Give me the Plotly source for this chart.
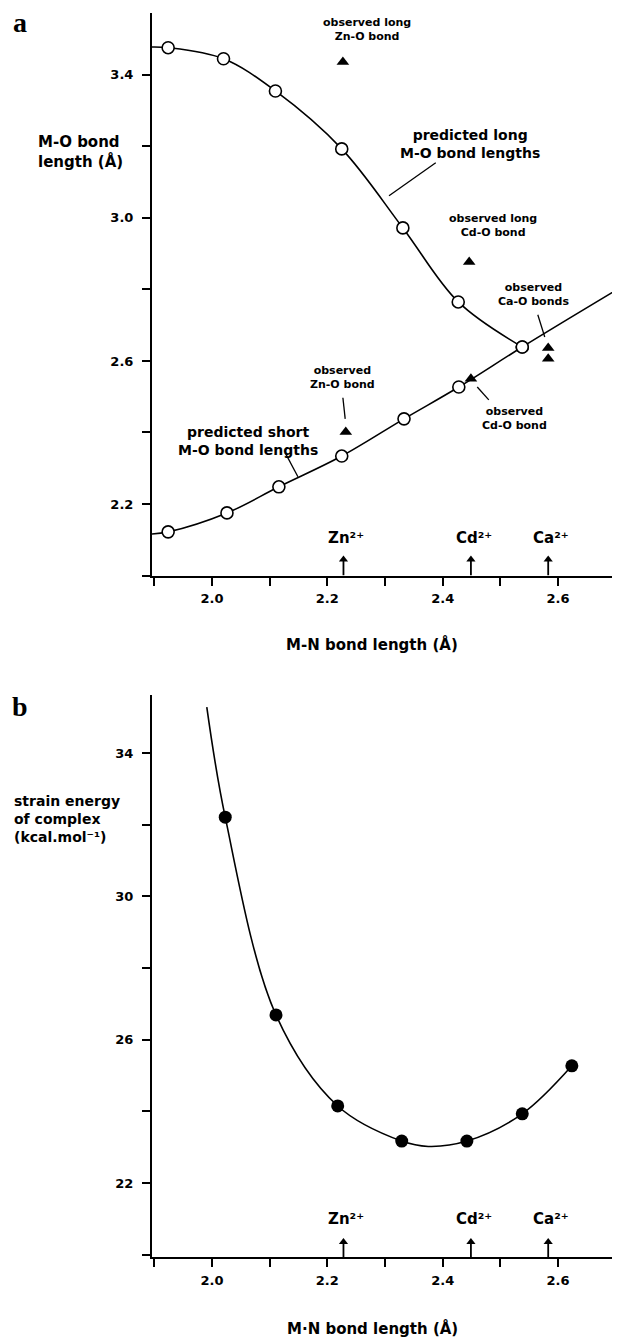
import plotly.graph_objects as go

# ---------------- data ----------------
# panel a: predicted M-O bond lengths vs M-N bond length
long_x = [1.924, 2.020, 2.110, 2.225, 2.331, 2.427, 2.538]
long_y = [3.476, 3.445, 3.355, 3.193, 2.972, 2.765, 2.639]
short_x = [1.924, 2.026, 2.116, 2.225, 2.333, 2.428, 2.538]
short_y = [2.122, 2.175, 2.248, 2.334, 2.438, 2.527, 2.639]
# smooth fitted curves
long_curve_x = [1.896, 1.924, 2.020, 2.110, 2.225, 2.331, 2.427, 2.538]
long_curve_y = [3.478, 3.476, 3.445, 3.355, 3.193, 2.972, 2.765, 2.639]
short_curve_x = [1.896, 1.924, 2.026, 2.116, 2.225, 2.333, 2.428, 2.538, 2.702]
short_curve_y = [2.116, 2.122, 2.175, 2.248, 2.334, 2.438, 2.527, 2.639, 2.799]
# observed bond lengths (triangles)
obs_x = [2.227, 2.446, 2.583, 2.583, 2.232, 2.449]
obs_y = [3.436, 2.877, 2.636, 2.606, 2.401, 2.550]

# panel b: strain energy
energy_x = [2.023, 2.111, 2.218, 2.329, 2.442, 2.538, 2.624]
energy_y = [32.21, 26.69, 24.15, 23.17, 23.17, 23.93, 25.27]
energy_curve_x = [1.991, 2.023, 2.111, 2.218, 2.329, 2.375, 2.442, 2.538, 2.624]
energy_curve_y = [35.28, 32.21, 26.69, 24.15, 23.17, 23.02, 23.17, 23.93, 25.27]

# ions marked on the M-N axis
ion_names = ["Zn²⁺", "Cd²⁺", "Ca²⁺"]
ion_x = [2.228, 2.449, 2.583]

# ticks
x_tickvals = [2.0, 2.2, 2.4, 2.6]
x_minor = [1.9, 2.1, 2.3, 2.5]
ya_tickvals = [2.2, 2.6, 3.0, 3.4]
ya_minor = [2.0, 2.4, 2.8, 3.2]
yb_tickvals = [22, 26, 30, 34]
yb_minor = [20, 24, 28, 32]

# ---------------- figure ----------------
FONT = "DejaVu Sans"
OFF = 8                      # page body margin
W, H = 612, 1330
def px(p):  return (p - OFF) / W
def py(p):  return 1 - (p - OFF) / H

XA_RANGE = [1.896, 2.7075]
YA_RANGE = [2.0, 3.573]
YB_RANGE = [19.935, 35.62]
YA_DOM = [py(575.5), py(13)]
YB_DOM = [py(1257), py(695)]
X_DOM = [px(152), 1.0]

fig = go.Figure()
line = dict(color="black", width=1.6)

fig.add_trace(go.Scatter(x=long_curve_x, y=long_curve_y, mode="lines",
                         line=dict(shape="spline", smoothing=1.0, **line),
                         xaxis="x", yaxis="y", hoverinfo="skip"))
fig.add_trace(go.Scatter(x=short_curve_x, y=short_curve_y, mode="lines",
                         line=dict(shape="spline", smoothing=1.0, **line),
                         xaxis="x", yaxis="y", hoverinfo="skip"))
fig.add_trace(go.Scatter(x=long_x + short_x, y=long_y + short_y, mode="markers",
                         marker=dict(symbol="circle", size=12, color="white",
                                     line=dict(color="black", width=1.6)),
                         xaxis="x", yaxis="y"))
fig.add_trace(go.Scatter(x=obs_x, y=obs_y, mode="markers",
                         marker=dict(symbol="triangle-up", size=11, color="black",
                                     line=dict(width=0)),
                         xaxis="x", yaxis="y"))

fig.add_trace(go.Scatter(x=energy_curve_x, y=energy_curve_y, mode="lines",
                         line=dict(shape="spline", smoothing=1.0, **line),
                         xaxis="x2", yaxis="y2", hoverinfo="skip"))
fig.add_trace(go.Scatter(x=energy_x, y=energy_y, mode="markers",
                         marker=dict(symbol="circle", size=13, color="black"),
                         xaxis="x2", yaxis="y2"))

# ion arrows on both panels
for xa, ya, lo, alen in (("x", "y", YA_RANGE[0], 16 / 357.5),
                         ("x2", "y2", YB_RANGE[0], 15 / 35.83)):
    sx, sy = [], []
    for xv in ion_x:
        sx += [xv, xv, None]
        sy += [lo, lo + alen, None]
    fig.add_trace(go.Scatter(x=sx, y=sy, mode="lines", line=dict(color="black", width=1.8),
                             xaxis=xa, yaxis=ya, hoverinfo="skip"))
    fig.add_trace(go.Scatter(x=ion_x, y=[lo + alen] * len(ion_x), mode="markers",
                             marker=dict(symbol="triangle-up", size=8, color="black",
                                         line=dict(width=0)),
                             xaxis=xa, yaxis=ya, hoverinfo="skip"))

tickfont = dict(family=FONT, size=13, color="black", weight="bold")
axis_common = dict(showline=True, linecolor="black", linewidth=2, showgrid=False,
                   zeroline=False, ticks="outside", ticklen=8, tickwidth=1.6,
                   tickcolor="black", tickfont=tickfont)
def minor(vals):
    return dict(tickvals=vals, ticks="outside", ticklen=8, tickwidth=1.6,
                tickcolor="black", showgrid=False)

fig.update_layout(
    width=W, height=H, margin=dict(l=0, r=0, t=0, b=0),
    paper_bgcolor="white", plot_bgcolor="white", showlegend=False,
    xaxis=dict(domain=X_DOM, range=XA_RANGE, anchor="y", tickvals=x_tickvals,
               minor=minor(x_minor), ticklabelstandoff=2, tickformat=".1f", **axis_common),
    yaxis=dict(domain=YA_DOM, range=YA_RANGE, anchor="x", tickvals=ya_tickvals,
               minor=minor(ya_minor), ticklabelstandoff=6, tickformat=".1f", **axis_common),
    xaxis2=dict(domain=X_DOM, range=XA_RANGE, anchor="y2", tickvals=x_tickvals,
                minor=minor(x_minor), ticklabelstandoff=2, tickformat=".1f", **axis_common),
    yaxis2=dict(domain=YB_DOM, range=YB_RANGE, anchor="x2", tickvals=yb_tickvals,
                minor=minor(yb_minor), ticklabelstandoff=6, **axis_common),
)

ann = []
def txt(text, x, y, size, xref="x", yref="y", family=FONT, **kw):
    d = dict(text=text, x=x, y=y, xref=xref, yref=yref, showarrow=False,
             xanchor="center", yanchor="middle",
             font=dict(family=family, size=size, color="black", weight="bold"))
    d.update(kw)
    ann.append(d)

# panel letters
txt("a", px(20), py(22), 28, xref="paper", yref="paper", family="Liberation Serif")
txt("b", px(20), py(706), 28, xref="paper", yref="paper", family="Liberation Serif")

# axis titles
txt("M-O bond<br>length (Å)", px(36), py(151.5), 15, xref="paper", yref="paper",
    xanchor="left", align="left")
txt("strain energy<br>of complex<br>(kcal.mol⁻¹)", px(12), py(818.5), 14,
    xref="paper", yref="paper", xanchor="left", align="left")
txt("M-N bond length (Å)", px(372), py(645), 15, xref="paper", yref="paper")
txt("M·N bond length (Å)", px(372), py(1328), 15, xref="paper", yref="paper")

# panel a callouts
txt("observed long<br>Zn-O bond", 2.269, 3.528, 11)
txt("predicted long<br>M-O bond lengths", 2.447, 3.207, 14)
txt("observed long<br>Cd-O bond", 2.487, 2.980, 11)
txt("observed<br>Ca-O bonds", 2.557, 2.785, 11)
txt("observed<br>Zn-O bond", 2.227, 2.555, 11)
txt("observed<br>Cd-O bond", 2.525, 2.439, 11)
txt("predicted short<br>M-O bond lengths", 2.062, 2.376, 14)

# ion labels
for xr, yr, lo in (("x", "y", YA_RANGE[0]), ("x2", "y2", YB_RANGE[0])):
    for name, xv in zip(ion_names, ion_x):
        ann.append(dict(x=xv, y=lo, xref=xr, yref=yr, text=name, showarrow=False,
                        xanchor="center", yanchor="bottom", yshift=27, xshift=3,
                        font=dict(family=FONT, size=15, color="black", weight="bold")))

shapes = []
def seg(x0, y0, x1, y1, xref="x", yref="y"):
    shapes.append(dict(type="line", x0=x0, y0=y0, x1=x1, y1=y1, xref=xref, yref=yref,
                       line=dict(color="black", width=1.3)))
seg(2.307, 3.062, 2.388, 3.154)
seg(2.565, 2.729, 2.577, 2.667)
seg(2.227, 2.497, 2.231, 2.438)
seg(2.460, 2.527, 2.480, 2.491)
seg(2.127, 2.343, 2.149, 2.276)

fig.update_layout(annotations=ann, shapes=shapes)
fig.write_html("out.html")
